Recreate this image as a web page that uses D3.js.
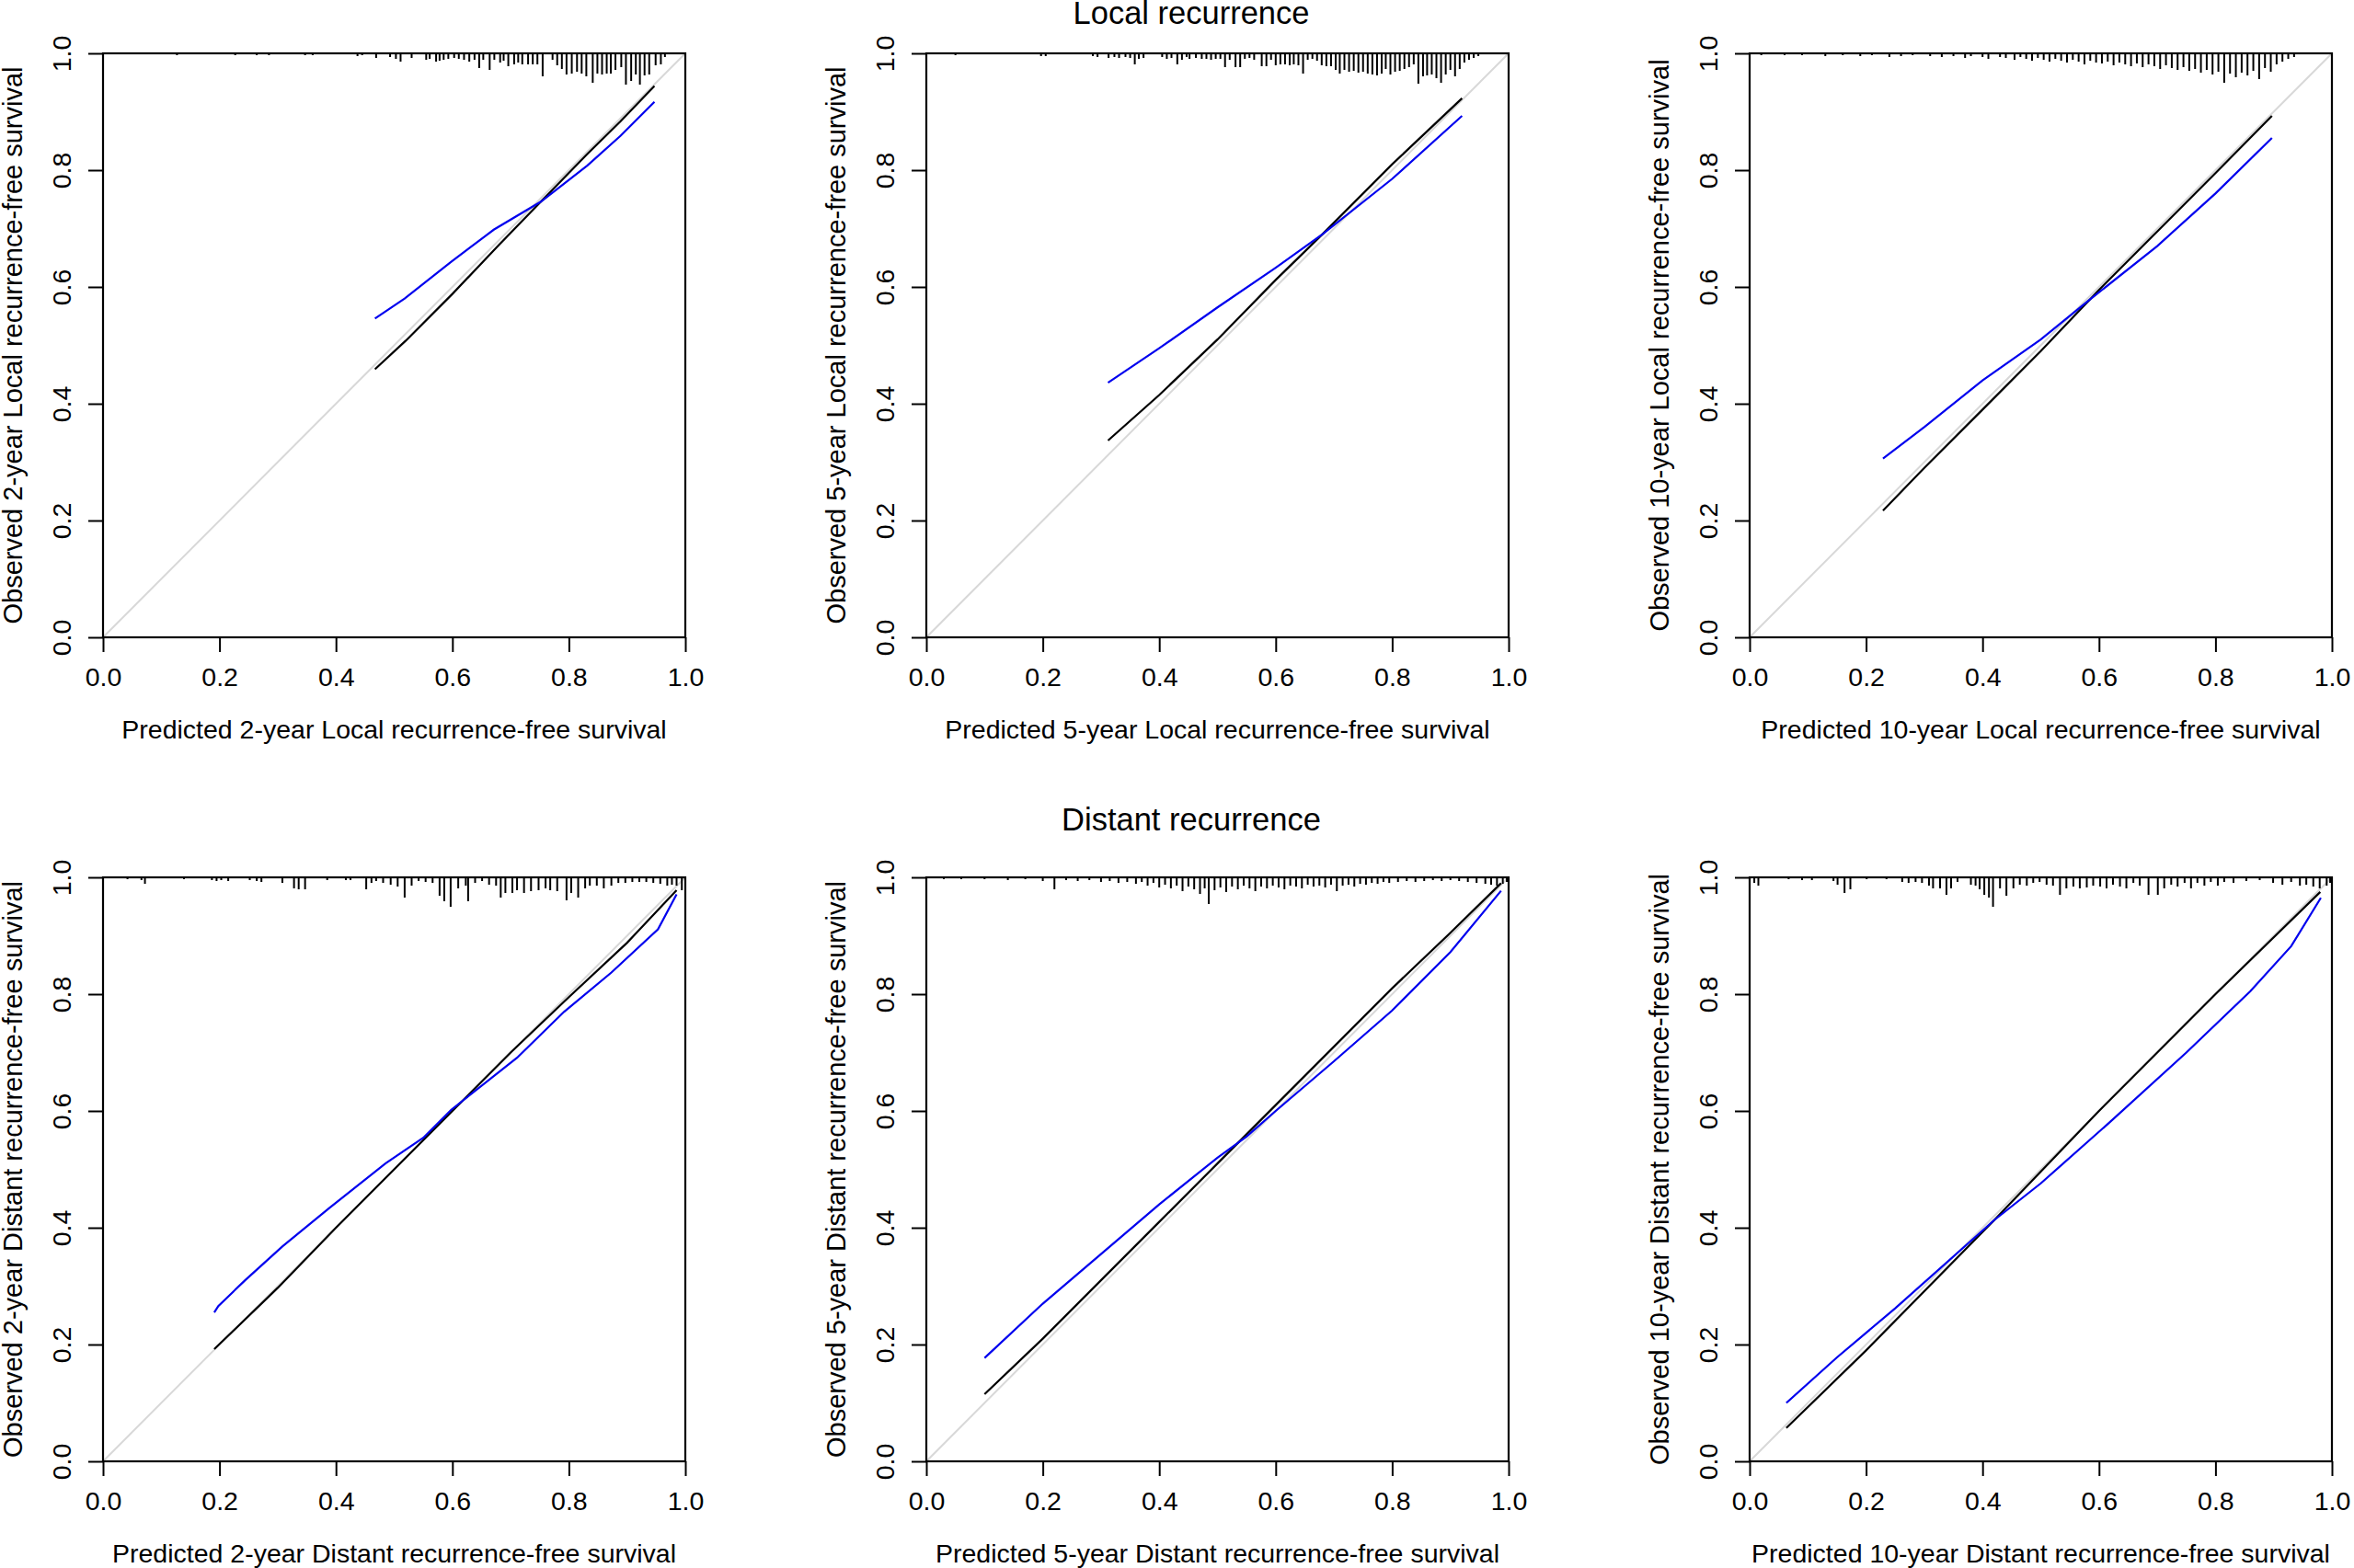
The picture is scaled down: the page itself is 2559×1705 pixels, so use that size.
<!DOCTYPE html>
<html>
<head>
<meta charset="utf-8">
<script src="https://cdn.jsdelivr.net/npm/d3@7"></script>
<style>
  body { margin: 0; background: #fff; }
  svg { display: block; }
  text { font-family: "Liberation Sans", Arial, Helvetica, sans-serif; fill: #000; }
</style>
</head>
<body>
<script>
// ---- data ----
var years = [2, 5, 10];
var outcomes = ["Local", "Distant"];
var rowTitles = ["Local recurrence", "Distant recurrence"];
var tickValues = [0, 0.2, 0.4, 0.6, 0.8, 1.0];

// apparent (black) and bias-corrected (blue) calibration curves: [predicted, observed]
var apparent_L2 = [[0.467,0.459],[0.52,0.508],[0.6,0.588],[0.68,0.672],[0.752,0.746],[0.832,0.828],[0.889,0.884],[0.947,0.944]];
var corrected_L2 = [[0.467,0.546],[0.518,0.580],[0.598,0.643],[0.671,0.698],[0.752,0.746],[0.832,0.808],[0.889,0.859],[0.947,0.917]];
var apparent_L5 = [[0.312,0.337],[0.4,0.415],[0.5,0.51],[0.6,0.612],[0.68,0.69],[0.8,0.81],[0.92,0.923]];
var corrected_L5 = [[0.312,0.436],[0.4,0.495],[0.5,0.565],[0.6,0.633],[0.68,0.69],[0.8,0.785],[0.92,0.893]];
var apparent_L10 = [[0.229,0.217],[0.3,0.29],[0.4,0.39],[0.5,0.49],[0.6,0.595],[0.7,0.695],[0.8,0.795],[0.897,0.893]];
var corrected_L10 = [[0.229,0.306],[0.3,0.36],[0.4,0.44],[0.5,0.51],[0.58,0.575],[0.7,0.67],[0.8,0.76],[0.897,0.855]];
var apparent_D2 = [[0.191,0.192],[0.3,0.297],[0.4,0.4],[0.5,0.5],[0.6,0.6],[0.7,0.7],[0.8,0.795],[0.9,0.888],[0.985,0.978]];
var corrected_D2 = [[0.191,0.255],[0.198,0.266],[0.244,0.310],[0.308,0.368],[0.389,0.434],[0.485,0.510],[0.550,0.554],[0.598,0.602],[0.711,0.691],[0.792,0.770],[0.873,0.837],[0.953,0.911],[0.985,0.971]];
var apparent_D5 = [[0.1,0.115],[0.2,0.21],[0.3,0.31],[0.4,0.41],[0.5,0.51],[0.6,0.61],[0.7,0.71],[0.8,0.81],[0.9,0.905],[0.987,0.99]];
var corrected_D5 = [[0.1,0.177],[0.2,0.27],[0.3,0.355],[0.4,0.44],[0.5,0.52],[0.55,0.556],[0.6,0.6],[0.7,0.685],[0.8,0.772],[0.9,0.872],[0.987,0.977]];
var apparent_D10 = [[0.063,0.057],[0.2,0.19],[0.42,0.413],[0.6,0.6],[0.8,0.8],[0.98,0.975]];
var corrected_D10 = [[0.063,0.100],[0.15,0.178],[0.25,0.262],[0.42,0.413],[0.5,0.476],[0.62,0.582],[0.75,0.7],[0.86,0.805],[0.93,0.882],[0.981,0.965]];

// distribution of predictions (spikes on top): [predicted, relative frequency]
var spikes_L2 = [[0.127,2],[0.227,2],[0.264,2],[0.285,2],[0.347,2],[0.360,2],[0.437,3],[0.445,2],[0.469,5],[0.493,4],[0.503,6],[0.511,9],[0.530,5],[0.555,7],[0.561,6],[0.572,9],[0.578,8],[0.585,7],[0.593,6],[0.603,5],[0.611,6],[0.620,7],[0.629,9],[0.638,7],[0.646,16],[0.653,7],[0.664,18],[0.672,7],[0.682,10],[0.688,8],[0.696,14],[0.706,12],[0.713,10],[0.720,12],[0.730,12],[0.738,12],[0.746,12],[0.755,25],[0.772,7],[0.780,13],[0.788,17],[0.796,23],[0.805,22],[0.814,20],[0.822,22],[0.830,25],[0.841,32],[0.849,22],[0.857,23],[0.865,22],[0.872,22],[0.880,18],[0.890,15],[0.898,34],[0.907,30],[0.915,23],[0.922,34],[0.930,24],[0.938,23],[0.949,13],[0.958,12],[0.965,4]];
var spikes_L5 = [[0.05,2],[0.197,3],[0.205,3],[0.286,3],[0.294,4],[0.313,5],[0.323,4],[0.331,5],[0.342,4],[0.350,5],[0.358,12],[0.365,6],[0.373,5],[0.405,4],[0.413,6],[0.421,5],[0.431,12],[0.439,7],[0.447,4],[0.452,6],[0.463,5],[0.473,6],[0.481,6],[0.489,7],[0.497,6],[0.505,6],[0.513,15],[0.521,7],[0.531,15],[0.539,15],[0.547,6],[0.555,5],[0.563,7],[0.576,14],[0.584,14],[0.592,7],[0.600,13],[0.608,12],[0.616,12],[0.624,13],[0.631,12],[0.639,13],[0.647,22],[0.655,7],[0.663,6],[0.671,8],[0.679,13],[0.687,14],[0.695,14],[0.703,18],[0.710,22],[0.718,18],[0.726,20],[0.734,19],[0.742,21],[0.750,20],[0.758,22],[0.766,23],[0.774,24],[0.782,22],[0.789,17],[0.797,23],[0.805,20],[0.813,19],[0.821,17],[0.829,15],[0.837,12],[0.845,33],[0.853,25],[0.860,24],[0.868,23],[0.876,27],[0.884,32],[0.892,23],[0.900,18],[0.908,25],[0.916,17],[0.924,10],[0.932,7],[0.940,5],[0.948,3]];
var spikes_L10 = [[0.02,2],[0.06,2],[0.09,2],[0.13,3],[0.16,2],[0.19,3],[0.21,2],[0.24,4],[0.26,3],[0.28,2],[0.31,3],[0.33,4],[0.35,3],[0.37,5],[0.38,3],[0.40,4],[0.41,6],[0.43,4],[0.44,5],[0.455,7],[0.465,4],[0.475,6],[0.485,8],[0.495,5],[0.505,7],[0.515,9],[0.525,6],[0.535,8],[0.545,10],[0.555,7],[0.565,9],[0.575,12],[0.585,8],[0.595,10],[0.605,11],[0.615,9],[0.625,13],[0.635,10],[0.645,12],[0.655,14],[0.665,11],[0.675,15],[0.685,12],[0.695,14],[0.705,17],[0.715,13],[0.725,16],[0.735,18],[0.745,15],[0.755,19],[0.765,17],[0.775,21],[0.785,18],[0.795,23],[0.805,20],[0.815,32],[0.825,22],[0.835,26],[0.845,21],[0.855,24],[0.865,19],[0.875,28],[0.885,16],[0.895,20],[0.905,12],[0.915,9],[0.925,6],[0.935,4]];
var spikes_D2 = [[0.042,2],[0.066,3],[0.072,7],[0.139,2],[0.187,3],[0.195,4],[0.203,3],[0.215,4],[0.252,3],[0.264,4],[0.272,5],[0.308,6],[0.328,12],[0.336,13],[0.347,13],[0.385,3],[0.417,3],[0.425,3],[0.452,13],[0.461,6],[0.469,4],[0.481,6],[0.494,8],[0.506,10],[0.518,22],[0.530,9],[0.542,4],[0.554,5],[0.566,6],[0.578,20],[0.586,26],[0.597,32],[0.610,12],[0.623,9],[0.627,26],[0.639,6],[0.651,4],[0.663,8],[0.675,9],[0.683,22],[0.691,17],[0.703,17],[0.711,14],[0.723,17],[0.735,15],[0.748,14],[0.760,12],[0.768,14],[0.780,15],[0.796,25],[0.804,17],[0.816,22],[0.828,12],[0.836,9],[0.848,9],[0.860,12],[0.873,9],[0.885,6],[0.897,6],[0.909,5],[0.921,5],[0.933,5],[0.945,6],[0.957,7],[0.969,9],[0.977,8],[0.985,9],[0.994,14]];
var spikes_D5 = [[0.03,2],[0.06,2],[0.10,2],[0.14,3],[0.17,2],[0.20,4],[0.22,13],[0.24,3],[0.26,4],[0.28,3],[0.30,5],[0.315,4],[0.33,6],[0.345,5],[0.36,7],[0.37,5],[0.38,9],[0.39,6],[0.40,11],[0.41,8],[0.42,12],[0.43,9],[0.44,15],[0.45,10],[0.46,13],[0.47,18],[0.478,12],[0.485,29],[0.495,14],[0.505,11],[0.515,16],[0.525,10],[0.535,13],[0.545,9],[0.555,12],[0.565,15],[0.575,10],[0.585,12],[0.595,9],[0.605,11],[0.615,13],[0.625,9],[0.635,10],[0.645,12],[0.655,8],[0.665,10],[0.675,9],[0.685,11],[0.695,8],[0.705,15],[0.715,9],[0.725,8],[0.735,10],[0.745,7],[0.755,8],[0.765,6],[0.775,7],[0.785,5],[0.795,6],[0.81,5],[0.825,4],[0.84,5],[0.855,4],[0.87,3],[0.885,4],[0.90,3],[0.915,4],[0.93,5],[0.945,6],[0.96,7],[0.97,8],[0.98,9],[0.99,7],[0.997,5]];
var spikes_D10 = [[0.008,6],[0.015,9],[0.067,2],[0.090,3],[0.107,3],[0.144,4],[0.151,8],[0.163,17],[0.173,13],[0.201,2],[0.235,2],[0.262,5],[0.273,6],[0.285,5],[0.296,6],[0.308,9],[0.315,12],[0.327,12],[0.338,19],[0.346,12],[0.357,5],[0.380,8],[0.388,9],[0.395,13],[0.403,19],[0.411,22],[0.418,32],[0.430,12],[0.441,20],[0.453,12],[0.464,8],[0.476,9],[0.487,6],[0.498,5],[0.510,8],[0.521,9],[0.533,19],[0.544,12],[0.556,10],[0.567,12],[0.579,11],[0.590,9],[0.602,10],[0.613,12],[0.624,8],[0.636,10],[0.647,12],[0.659,6],[0.670,9],[0.685,19],[0.701,19],[0.712,12],[0.724,8],[0.735,10],[0.747,6],[0.758,12],[0.769,6],[0.781,9],[0.792,5],[0.804,9],[0.815,5],[0.831,6],[0.853,4],[0.876,3],[0.899,6],[0.915,8],[0.930,5],[0.945,9],[0.956,8],[0.968,10],[0.979,12],[0.991,9],[0.997,6]];

var apparent = { L2: apparent_L2, L5: apparent_L5, L10: apparent_L10, D2: apparent_D2, D5: apparent_D5, D10: apparent_D10 };
var corrected = { L2: corrected_L2, L5: corrected_L5, L10: corrected_L10, D2: corrected_D2, D5: corrected_D5, D10: corrected_D10 };
var spikes = { L2: spikes_L2, L5: spikes_L5, L10: spikes_L10, D2: spikes_D2, D5: spikes_D5, D10: spikes_D10 };

// ---- layout ----
var W = 2559, H = 1705;
var colLeft = [112, 1007, 1902];
var rowTop = [58, 954];
var titleY = [26, 903];
var titleX = 1295;
var pw = 633, ph = 635;
var fontSize = 28.5;

var svg = d3.select("body").append("svg").attr("width", W).attr("height", H);

var x = d3.scaleLinear().domain([0, 1]).range([0, pw]);
var y = d3.scaleLinear().domain([0, 1]).range([ph, 0]);
var spikeLen = d3.scaleLinear().domain([0, 35]).range([0, 35]);
var line = d3.line().x(function(d){ return x(d[0]); }).y(function(d){ return y(d[1]); });

rowTitles.forEach(function(t, r){
  svg.append("text").attr("x", titleX).attr("y", titleY[r])
    .attr("text-anchor", "middle").style("font-size", "34.5px").text(t);
});

outcomes.forEach(function(outcome, r){
  years.forEach(function(yr, c){
    var key = outcome.charAt(0) + yr;
    var g = svg.append("g").attr("transform", "translate(" + colLeft[c] + "," + rowTop[r] + ")");

    // ideal line
    g.append("line")
      .attr("x1", x(0)).attr("y1", y(0)).attr("x2", x(1)).attr("y2", y(1))
      .style("stroke", "#d8d8d8").style("stroke-width", 2);

    // spikes along the top
    g.selectAll(".spike").data(spikes[key]).enter().append("line")
      .attr("x1", function(d){ return x(d[0]); }).attr("x2", function(d){ return x(d[0]); })
      .attr("y1", y(1)).attr("y2", function(d){ return y(1) + spikeLen(d[1]); })
      .style("stroke", "#000").style("stroke-width", 2);

    g.append("path").attr("d", line(apparent[key]))
      .style("fill", "none").style("stroke", "#000").style("stroke-width", 2.2);
    g.append("path").attr("d", line(corrected[key]))
      .style("fill", "none").style("stroke", "#0000ee").style("stroke-width", 2.2);

    // axes
    var xa = g.append("g").attr("transform", "translate(0," + ph + ")")
      .call(d3.axisBottom(x).tickValues(tickValues).tickFormat(d3.format(".1f")).tickSize(16).tickSizeOuter(0).tickPadding(17));
    xa.selectAll("text").style("font-size", fontSize + "px").attr("dy", "0.71em");
    var ya = g.append("g")
      .call(d3.axisLeft(y).tickValues(tickValues).tickFormat(d3.format(".1f")).tickSize(16).tickSizeOuter(0));
    ya.selectAll("text").attr("x", 0).attr("y", -35).attr("dy", 0)
      .attr("transform", "rotate(-90)").attr("text-anchor", "middle").style("font-size", fontSize + "px");
    g.selectAll(".domain").remove();
    g.selectAll(".tick line").style("stroke", "#000").style("stroke-width", 2);

    g.append("rect").attr("x", 0).attr("y", 0).attr("width", pw).attr("height", ph)
      .style("fill", "none").style("stroke", "#000").style("stroke-width", 2.2);

    var name = yr + "-year " + outcome + " recurrence-free survival";
    g.append("text").attr("x", pw / 2).attr("y", ph + 110).attr("text-anchor", "middle")
      .style("font-size", fontSize + "px").text("Predicted " + name);
    g.append("text").attr("transform", "translate(-88," + (ph / 2) + ") rotate(-90)")
      .attr("text-anchor", "middle").style("font-size", "29px").text("Observed " + name);
  });
});
</script>
</body>
</html>
